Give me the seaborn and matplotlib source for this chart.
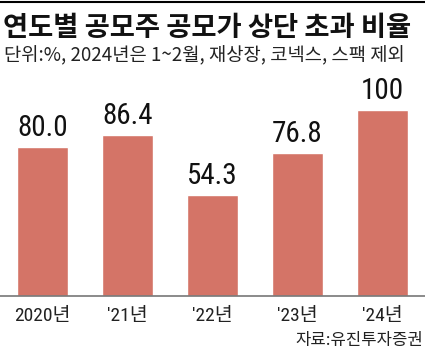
import matplotlib
matplotlib.use("Agg")
import matplotlib.pyplot as plt
from matplotlib import font_manager
import seaborn as sns
import pandas as pd

# data
years = ["2020년", "'21년", "'22년", "'23년", "'24년"]
ratio = [80.0, 86.4, 54.3, 76.8, 100]
value_labels = ["80.0", "86.4", "54.3", "76.8", "100"]

title = "연도별 공모주 공모가 상단 초과 비율"
subtitle = "단위:%, 2024년은 1~2월, 재상장, 코넥스, 스팩 제외"
source = "자료:유진투자증권"

sns.set_style("white")
plt.rcParams['font.family'] = ['Noto Sans CJK KR', 'DejaVu Sans']

# pick a condensed face for the numbers if one is installed
installed = {f.name for f in font_manager.fontManager.ttflist}
narrow = [f for f in ['Roboto Condensed', 'Liberation Sans Narrow', 'Roboto']
          if f in installed] + ['Noto Sans CJK KR', 'DejaVu Sans']

df = pd.DataFrame({"year": years, "ratio": ratio})

fig = plt.figure(figsize=(4.25, 3.55), dpi=100)
ax = fig.add_axes([0, 0.166, 1, 0.55])

sns.barplot(data=df, x="year", y="ratio", color="#D47467", width=0.6,
            saturation=1, ax=ax)

ax.set_xlim(-0.5, 4.5)
ax.set_ylim(0, 105)
ax.set_xlabel("")
ax.set_ylabel("")
ax.set_yticks([])
for s in ["top", "left", "right"]:
    ax.spines[s].set_visible(False)
ax.spines["bottom"].set_color("#777777")
ax.spines["bottom"].set_linewidth(1.2)
ax.tick_params(axis="x", length=0, pad=8)
for lab in ax.get_xticklabels():
    lab.set_family(narrow)
    lab.set_fontsize(14)
    lab.set_color("#222222")

for i, (v, t) in enumerate(zip(ratio, value_labels)):
    ax.text(i, v + 3, t, ha="center", va="bottom", fontsize=21,
            family=narrow, color="#111111")

fig.text(0.008, 0.92, title, fontsize=19.7, fontweight="bold", ha="left",
         va="center", color="#111111")
fig.text(0.01, 0.843, subtitle, fontsize=13.5, ha="left", va="center",
         color="#222222")
fig.text(0.995, 0.042, source, fontsize=12, ha="right", va="center",
         color="#222222")
fig.add_artist(plt.Line2D([0, 1], [0.995, 0.995], color="black", lw=1.5))

fig.savefig("out.png", dpi=100)
